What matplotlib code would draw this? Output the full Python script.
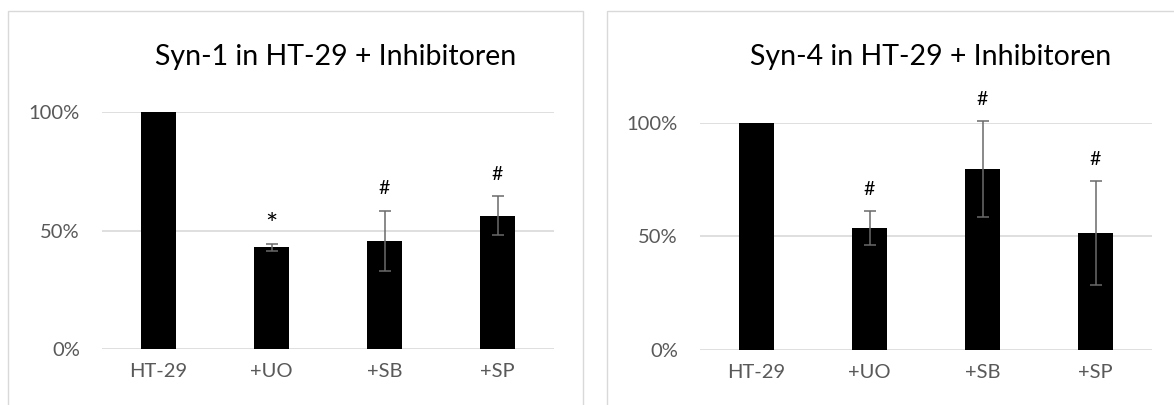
"""Syn-1 / Syn-4 expression in HT-29 cells with inhibitors, Excel-style bar panels."""

from __future__ import annotations

import matplotlib
matplotlib.use("Agg")
import matplotlib.pyplot as plt
from matplotlib.patches import Rectangle
from matplotlib.ticker import PercentFormatter


categories = ["HT-29", "+UO", "+SB", "+SP"]

syn1_values = [1.00, 0.430, 0.458, 0.563]
syn1_errors = [0.0, 0.014, 0.126, 0.082]
syn1_marks = ["", "*", "#", "#"]

syn4_values = [1.00, 0.535, 0.796, 0.514]
syn4_errors = [0.0, 0.075, 0.210, 0.228]
syn4_marks = ["", "#", "#", "#"]

titles = ["Syn-1 in HT-29 + Inhibitoren", "Syn-4 in HT-29 + Inhibitoren"]

FIG_W, FIG_H = 1174, 405
DPI = 100
FONT = "Lato"
GRID = "#d9d9d9"
LABEL = "#595959"
ERRBAR = "#6a6a6a"


def _px_axes(fig, left, right, bottom, top):
    # pixel box (origin top-left) -> figure fraction
    return fig.add_axes([left / FIG_W, 1 - bottom / FIG_H,
                         (right - left) / FIG_W, (bottom - top) / FIG_H])


def _draw_panel(ax, values, errors, marks):
    x = range(len(categories))
    ax.bar(x, values, width=0.31, color="black", zorder=3)
    for xi, v, e in zip(x, values, errors):
        if e > 0:
            bars = ax.errorbar(xi, v, yerr=e, color=ERRBAR, elinewidth=1.1,
                               capsize=4.5, capthick=1.1, zorder=4)
            for artist in bars.lines[1] + bars.lines[2]:
                artist.set_clip_on(False)
    for xi, v, e, m in zip(x, values, errors, marks):
        if not m:
            continue
        # the asterisk glyph is much smaller than "#" in Lato
        size = 21 if m == "*" else 14
        dy = 13 if m == "*" else 16
        ax.annotate(m, (xi, v + e), xytext=(0, dy), textcoords="offset points",
                    ha="center", va="center", fontsize=size, color="black",
                    family=FONT, annotation_clip=False)

    ax.set_xlim(-0.5, len(categories) - 0.5)
    ax.set_ylim(0, 1.0)
    ax.set_yticks([0, 0.5, 1.0])
    ax.yaxis.set_major_formatter(PercentFormatter(1.0, decimals=0))
    ax.set_xticks(list(x))
    ax.set_xticklabels(categories)
    ax.tick_params(axis="y", length=0, pad=16, labelsize=14.5, labelcolor=LABEL)
    ax.tick_params(axis="x", length=0, pad=10, labelsize=14.5, labelcolor=LABEL)
    for lbl in ax.get_xticklabels() + ax.get_yticklabels():
        lbl.set_family(FONT)
    ax.grid(axis="y", color=GRID, linewidth=1.2, zorder=0)
    ax.set_axisbelow(True)
    for spine in ax.spines.values():
        spine.set_visible(False)
    ax.patch.set_alpha(0)


def main() -> None:
    fig = plt.figure(figsize=(FIG_W / DPI, FIG_H / DPI), dpi=DPI)

    # chart-area frames (Excel style), run past the figure edge like the screenshot
    for left, right in [(8, 583), (607, 1200)]:
        fig.patches.append(Rectangle((left / FIG_W, -0.1), (right - left) / FIG_W,
                                     1.1 - 11 / FIG_H, transform=fig.transFigure,
                                     fill=False, edgecolor=GRID, linewidth=1.0))

    ax1 = _px_axes(fig, 102, 554, 349.3, 112)
    ax2 = _px_axes(fig, 700, 1152, 349.7, 122.7)
    _draw_panel(ax1, syn1_values, syn1_errors, syn1_marks)
    _draw_panel(ax2, syn4_values, syn4_errors, syn4_marks)

    for cx, title in zip([336, 931], titles):
        fig.text(cx / FIG_W, 1 - 57 / FIG_H, title, ha="center", va="center",
                 fontsize=20.5, family=FONT, color="black")

    fig.savefig("out.png", dpi=DPI)
    plt.close(fig)


if __name__ == "__main__":
    main()
